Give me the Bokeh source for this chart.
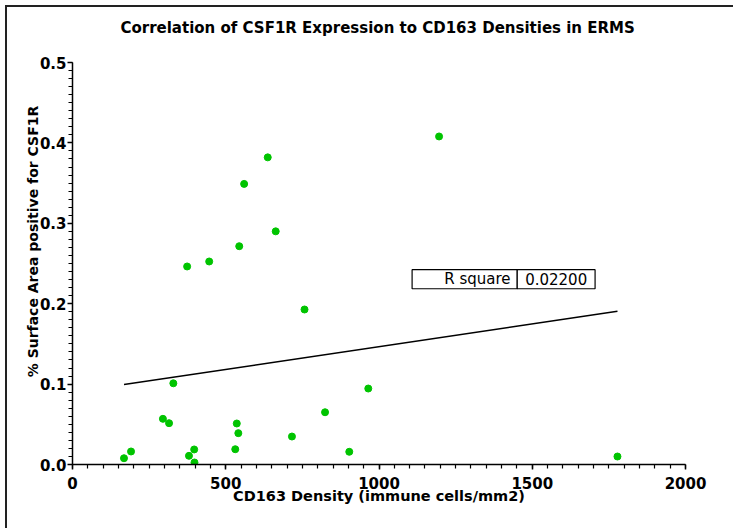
from bokeh.plotting import figure
from bokeh.models import Range1d, FixedTicker, Label, BoxAnnotation
from bokeh.embed import file_html
from bokeh.resources import INLINE

# ---- data ----
cd163_density = [168, 191, 329, 295, 315, 397, 380, 398, 536, 541, 531, 716, 824,
                 903, 965, 637, 560, 663, 544, 446, 374, 757, 1196, 1778]
csf1r_area = [0.0078, 0.0162, 0.101, 0.0568, 0.0514, 0.0187, 0.0108, 0.0025, 0.051,
              0.039, 0.019, 0.0348, 0.065, 0.0158, 0.0945, 0.382, 0.349, 0.290,
              0.2715, 0.2525, 0.2463, 0.1928, 0.408, 0.00995]
fit_x = [168, 1778]
fit_y = [0.0995, 0.1907]
r_square_label = "R square"
r_square_value = "0.02200"

x_ticks = [0, 500, 1000, 1500, 2000]
x_tick_labels = ["0", "500", "1000", "1500", "2000"]
y_ticks = [0.0, 0.1, 0.2, 0.3, 0.4, 0.5]
y_tick_labels = ["0.0", "0.1", "0.2", "0.3", "0.4", "0.5"]
x_minor = [i * 50 for i in range(41)]
y_minor = [i / 100 for i in range(51)]

title_text = "Correlation of  CSF1R Expression to CD163 Densities in ERMS"
x_title = "CD163 Density (immune cells/mm2)"
y_title = "% Surface Area positive for CSF1R"

FONT = "DejaVu Sans"
GREEN = "#00C400"

# axis 0..0.5 drawn with bounds; the frame reaches higher to hold the title
Y_TOP = 0.5 + 44 / 804.0

p = figure(width=733, height=528, output_backend="svg", toolbar_location=None,
           x_range=Range1d(0, 2000), y_range=Range1d(0, Y_TOP),
           min_border_left=72, min_border_right=48, min_border_top=18,
           min_border_bottom=64)

p.grid.visible = False
p.outline_line_color = None
p.background_fill_color = None
p.border_fill_color = None

for ax in (p.xaxis[0], p.yaxis[0]):
    ax.axis_line_color = "black"
    ax.axis_line_width = 1.5
    ax.major_tick_line_color = "black"
    ax.major_tick_line_width = 1.5
    ax.minor_tick_line_color = "black"
    ax.minor_tick_line_width = 1.2
    ax.major_tick_in = 0
    ax.major_tick_out = 5
    ax.minor_tick_in = 0
    ax.minor_tick_out = 4
    ax.major_label_text_font = FONT
    ax.major_label_text_font_style = "bold"
    ax.major_label_text_font_size = "15px"
    ax.major_label_text_color = "black"
    ax.axis_label_text_font = FONT
    ax.axis_label_text_font_style = "bold"
    ax.axis_label_text_color = "black"

p.xaxis[0].axis_label_text_font_size = "14.5px"
p.yaxis[0].axis_label_text_font_size = "14px"
p.xaxis[0].ticker = FixedTicker(ticks=x_ticks, minor_ticks=x_minor)
p.yaxis[0].ticker = FixedTicker(ticks=y_ticks, minor_ticks=y_minor)
p.yaxis[0].bounds = (0, 0.5)
p.xaxis[0].major_label_overrides = dict(zip(x_ticks, x_tick_labels))
p.yaxis[0].major_label_overrides = dict(zip(y_ticks, y_tick_labels))
p.xaxis[0].major_label_standoff = 7
p.yaxis[0].major_label_standoff = 1
p.xaxis[0].axis_label = x_title
p.xaxis[0].axis_label_standoff = -4
p.yaxis[0].axis_label = y_title
p.yaxis[0].axis_label_standoff = -4

# chart title
p.add_layout(Label(x=1004, y=0.5 + 35 / 804.0, text=title_text,
                   text_align="center", text_baseline="middle",
                   text_font=FONT, text_font_style="bold", text_font_size="15px",
                   text_color="black"))

# regression line
p.line(fit_x, fit_y, line_color="black", line_width=1.5)

# data points
p.scatter(cd163_density, csf1r_area, size=7, fill_color=GREEN, line_color=GREEN)

# R square table (two adjacent cells)
box_l, box_m, box_r = 1108, 1451, 1705
box_b, box_t = 0.2186, 0.2423
for left, right in ((box_l, box_m), (box_m, box_r)):
    p.add_layout(BoxAnnotation(left=left, right=right, bottom=box_b, top=box_t,
                               fill_color="white", fill_alpha=1.0,
                               line_color="black", line_alpha=1.0, line_width=1.2))
p.add_layout(Label(x=box_m - 22, y=(box_b + box_t) / 2, text=r_square_label,
                   text_align="right", text_baseline="middle",
                   text_font=FONT, text_font_size="15px", text_color="black"))
p.add_layout(Label(x=(box_m + box_r) / 2, y=(box_b + box_t) / 2, text=r_square_value,
                   text_align="center", text_baseline="middle",
                   text_font=FONT, text_font_size="15px", text_color="black"))

# outer frame line (top and left edges, as in the reference)
p.styles = {"box-shadow": "inset 5px 5px 0px 0px white, inset 7px 7px 0px 0px #222"}

open("out.html", "w").write(file_html(p, INLINE))
